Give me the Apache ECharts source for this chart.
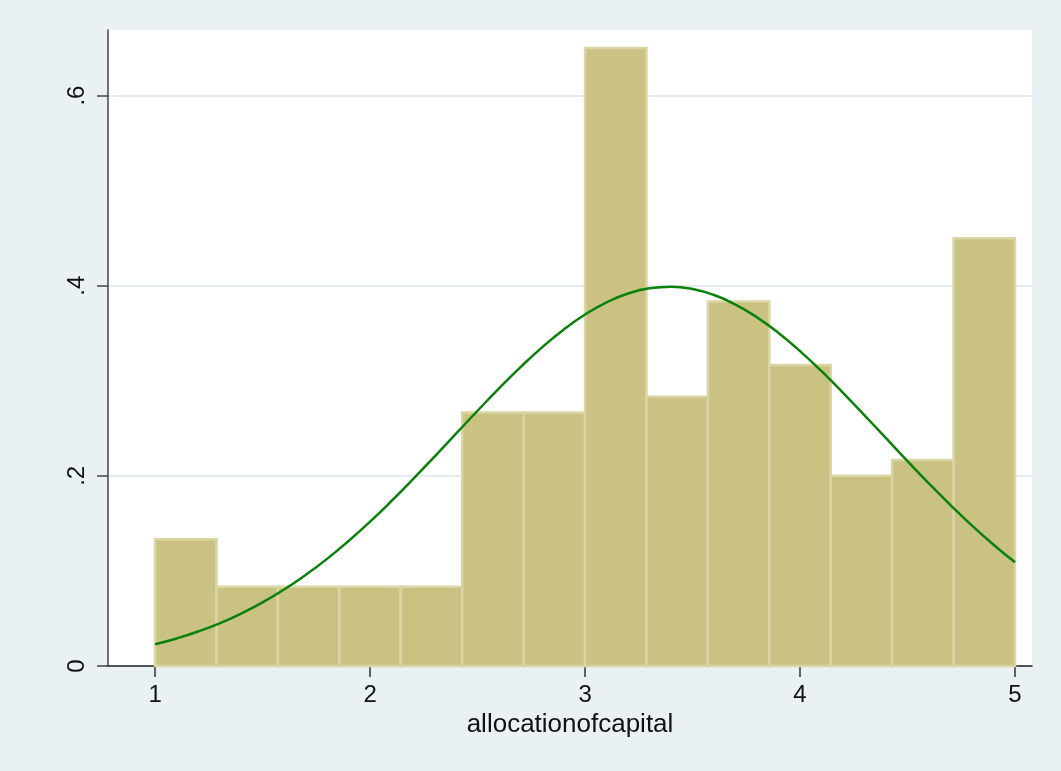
<!DOCTYPE html>
<html>
<head>
<meta charset="utf-8">
<script src="https://cdn.jsdelivr.net/npm/echarts@6/dist/echarts.min.js"></script>
<style>
  html, body { margin: 0; padding: 0; background: #E9F1F3; }
  #chart { width: 1061px; height: 771px; }
</style>
</head>
<body>
<div id="chart"></div>
<script>
// Histogram bin edges (14 bins from 1 to 5) and bin densities
const binEdges = [1, 1.2857, 1.5714, 1.8571, 2.1429, 2.4286, 2.7143, 3,
                  3.2857, 3.5714, 3.8571, 4.1429, 4.4286, 4.7143, 5];
const densities = [0.1333, 0.0833, 0.0833, 0.0833, 0.0833, 0.2667, 0.2667,
                   0.65, 0.2833, 0.3833, 0.3167, 0.2, 0.2167, 0.45];

// Normal density overlay, sampled every 0.1 along the x range
const curveX = [1.0, 1.1, 1.2, 1.3, 1.4, 1.5, 1.6, 1.7, 1.8, 1.9, 2.0,
                2.1, 2.2, 2.3, 2.4, 2.5, 2.6, 2.7, 2.8, 2.9, 3.0,
                3.1, 3.2, 3.3, 3.4, 3.5, 3.6, 3.7, 3.8, 3.9, 4.0,
                4.1, 4.2, 4.3, 4.4, 4.5, 4.6, 4.7, 4.8, 4.9, 5.0];
const curveY = [0.0229, 0.0290, 0.0363, 0.0449, 0.0551, 0.0669, 0.0804, 0.0957, 0.1127, 0.1315, 0.1518,
                0.1736, 0.1965, 0.2203, 0.2444, 0.2685, 0.2920, 0.3144, 0.3352, 0.3538, 0.3697,
                0.3825, 0.3918, 0.3973, 0.3989, 0.3965, 0.3902, 0.3802, 0.3667, 0.3503, 0.3312,
                0.3101, 0.2874, 0.2637, 0.2396, 0.2155, 0.1919, 0.1692, 0.1476, 0.1276, 0.1091];

// Axis ticks
const xTicks = [1, 2, 3, 4, 5];
const yTicks = [0, 0.2, 0.4, 0.6];
const xTitle = 'allocationofcapital';

const barData = densities.map((d, i) => [binEdges[i], binEdges[i + 1], d]);
const lineData = curveX.map((x, i) => [x, curveY[i]]);

const FONT = '"Liberation Sans", Arial, Helvetica, sans-serif';

const chart = echarts.init(document.getElementById('chart'), null, { renderer: 'canvas' });

chart.setOption({
  backgroundColor: '#E9F1F3',
  animation: false,
  grid: {
    left: 108, right: 29, top: 30, bottom: 105,
    show: true, backgroundColor: '#FFFFFF', borderWidth: 0
  },
  xAxis: {
    type: 'value',
    min: 0.781, max: 5.079,
    name: xTitle,
    nameLocation: 'middle',
    nameGap: 44,
    nameTextStyle: { fontFamily: FONT, fontSize: 26, color: '#111' },
    axisLine: { show: true, onZero: false, lineStyle: { color: '#222', width: 1.5 } },
    axisTick: { show: true, length: 11, customValues: xTicks, lineStyle: { color: '#333', width: 1.5 } },
    axisLabel: { customValues: xTicks, margin: 17, fontFamily: FONT, fontSize: 24, color: '#111' },
    splitLine: { show: false }
  },
  yAxis: {
    type: 'value',
    min: 0, max: 0.669, interval: 0.2,
    axisLine: { show: true, onZero: false, lineStyle: { color: '#444', width: 1.5 } },
    axisTick: { show: true, length: 11, customValues: yTicks, lineStyle: { color: '#444', width: 1.5 } },
    axisLabel: {
      customValues: yTicks,
      rotate: 90,
      margin: 19,
      fontFamily: FONT, fontSize: 24, color: '#111',
      formatter: v => (v === 0 ? '0' : String(+v.toFixed(1)).replace(/^0/, ''))
    },
    splitLine: { show: true, lineStyle: { color: '#E3ECEF', width: 2 } }
  },
  series: [
    {
      type: 'custom',
      z: 2,
      data: barData,
      encode: { x: [0, 1], y: 2 },
      renderItem: function (params, api) {
        const p0 = api.coord([api.value(0), 0]);
        const p1 = api.coord([api.value(1), api.value(2)]);
        return {
          type: 'rect',
          shape: { x: p0[0], y: p1[1], width: p1[0] - p0[0], height: p0[1] - p1[1] },
          style: { fill: '#CAC283', stroke: '#DAD5A4', lineWidth: 2.5 }
        };
      }
    },
    {
      type: 'line',
      z: 3,
      data: lineData,
      smooth: true,
      showSymbol: false,
      symbol: 'none',
      lineStyle: { color: '#0A820A', width: 2.5 }
    }
  ]
});
</script>
</body>
</html>
